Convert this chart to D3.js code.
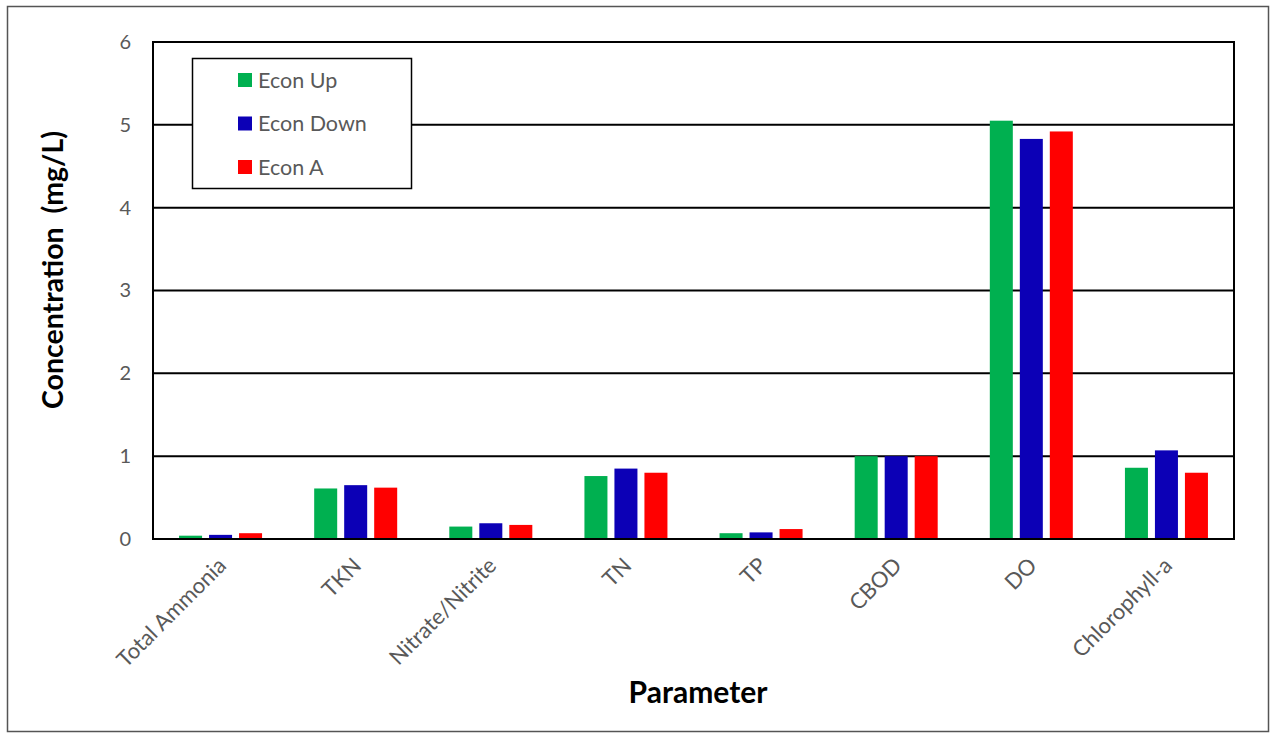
<!DOCTYPE html>
<html>
<head>
<meta charset="utf-8">
<script src="https://cdn.jsdelivr.net/npm/d3@7"></script>
<style>
  html, body { margin: 0; padding: 0; background: #fff; }
  svg { display: block; }
</style>
</head>
<body>
<svg id="chart" width="1271" height="734"></svg>
<script>
// Water-quality parameters and modelled concentrations (mg/L) for each scenario
const categories = ["Total Ammonia", "TKN", "Nitrate/Nitrite", "TN", "TP", "CBOD", "DO", "Chlorophyll-a"];
const seriesNames = ["Econ Up", "Econ Down", "Econ A"];
const econUp   = [0.04, 0.61, 0.15, 0.76, 0.07, 1.00, 5.05, 0.86];
const econDown = [0.05, 0.65, 0.19, 0.85, 0.08, 1.00, 4.83, 1.07];
const econA    = [0.07, 0.62, 0.17, 0.80, 0.12, 1.00, 4.92, 0.80];
const yTicks = [0, 1, 2, 3, 4, 5, 6];

const seriesValues = [econUp, econDown, econA];
const colors = ["#00B050", "#0C00B6", "#FF0000"];

const svg = d3.select("#chart");
const font = "Lato, 'Open Sans', sans-serif";

// outer frame
svg.append("rect")
  .attr("x", 7.5).attr("y", 6.5).attr("width", 1261).attr("height", 725)
  .attr("fill", "#fff").attr("stroke", "#555").attr("stroke-width", 1.5);

const plot = { left: 153, right: 1234, top: 42, bottom: 539 };

const x0 = d3.scaleBand().domain(categories).range([plot.left, plot.right]).padding(0);
const groupW = 90;
const x1 = d3.scaleBand().domain(seriesNames).range([-groupW / 2, groupW / 2]).paddingInner(0.233).paddingOuter(0.1165);
const y = d3.scaleLinear().domain([0, 6]).range([plot.bottom, plot.top]);

// horizontal gridlines
svg.append("g")
  .selectAll("line")
  .data(yTicks.filter(t => t > 0 && t < 6))
  .join("line")
  .attr("x1", plot.left).attr("x2", plot.right)
  .attr("y1", d => y(d)).attr("y2", d => y(d))
  .attr("stroke", "#000").attr("stroke-width", 2);

// bars
const rows = categories.map((c, i) => ({ cat: c, vals: seriesNames.map((s, j) => ({ s, j, v: seriesValues[j][i] })) }));
svg.append("g")
  .selectAll("g")
  .data(rows)
  .join("g")
  .attr("transform", d => `translate(${x0(d.cat) + x0.bandwidth() / 2},0)`)
  .selectAll("rect")
  .data(d => d.vals)
  .join("rect")
  .attr("x", d => x1(d.s))
  .attr("width", x1.bandwidth())
  .attr("y", d => y(d.v))
  .attr("height", d => y(0) - y(d.v))
  .attr("fill", d => colors[d.j]);

// plot border
svg.append("rect")
  .attr("x", plot.left).attr("y", plot.top)
  .attr("width", plot.right - plot.left).attr("height", plot.bottom - plot.top)
  .attr("fill", "none").attr("stroke", "#000").attr("stroke-width", 2);

// y axis labels
const yAxis = d3.axisLeft(y).tickValues(yTicks).tickSize(0).tickPadding(22).tickFormat(d3.format("d"));
const gy = svg.append("g").attr("transform", `translate(${plot.left},0)`).call(yAxis);
gy.select(".domain").remove();
gy.selectAll("text").attr("font-family", font).attr("font-size", 20).attr("fill", "#595959");

// x axis labels, rotated
const xAxis = d3.axisBottom(x0).tickSize(0).tickPadding(0);
const gx = svg.append("g").attr("transform", `translate(0,${plot.bottom})`).call(xAxis);
gx.select(".domain").remove();
gx.selectAll("text")
  .attr("font-family", font).attr("font-size", 22).attr("fill", "#595959")
  .attr("text-anchor", "end")
  .attr("dy", null).attr("y", null)
  .attr("transform", "translate(7,28) rotate(-45)");

// axis titles
svg.append("text")
  .attr("x", 698).attr("y", 703)
  .attr("text-anchor", "middle")
  .attr("font-family", font).attr("font-weight", "bold").attr("font-size", 30)
  .text("Parameter");

svg.append("text")
  .attr("transform", "translate(63,270) rotate(-90)")
  .attr("text-anchor", "middle")
  .attr("font-family", font).attr("font-weight", "bold").attr("font-size", 28.5)
  .attr("xml:space", "preserve")
  .style("white-space", "pre")
  .text("Concentration  (mg/L)");

// legend
const lg = svg.append("g");
lg.append("rect")
  .attr("x", 192.5).attr("y", 58.5).attr("width", 219).attr("height", 130)
  .attr("fill", "#fff").attr("stroke", "#000").attr("stroke-width", 1.5);
const items = lg.selectAll("g.item")
  .data(seriesNames)
  .join("g")
  .attr("class", "item")
  .attr("transform", (d, i) => `translate(238,${80 + i * 43.5})`);
items.append("rect")
  .attr("x", 0).attr("y", -7).attr("width", 14).attr("height", 14)
  .attr("fill", (d, i) => colors[i]);
items.append("text")
  .attr("x", 20).attr("y", 0).attr("dy", "0.35em")
  .attr("font-family", font).attr("font-size", 21.5).attr("fill", "#595959")
  .text(d => d);
</script>
</body>
</html>
